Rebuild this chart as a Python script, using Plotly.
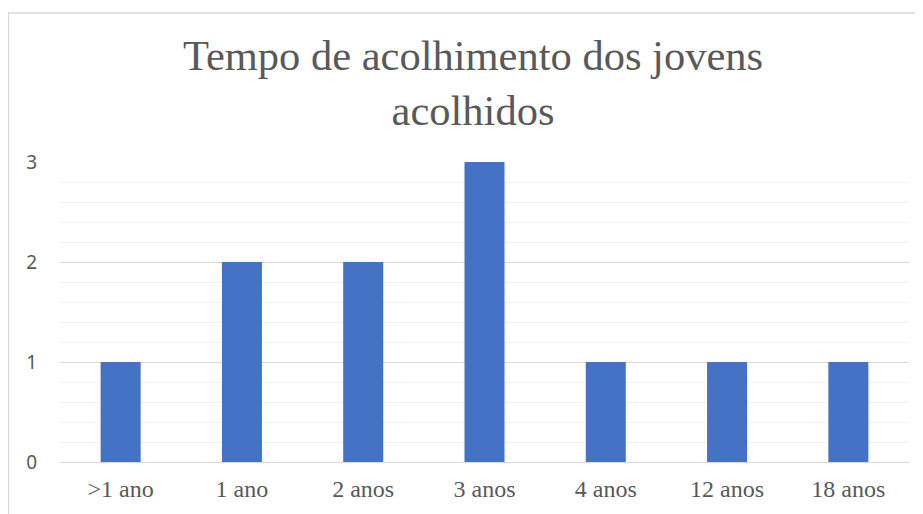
import plotly.graph_objects as go

categories = [">1 ano", "1 ano", "2 anos", "3 anos", "4 anos", "12 anos", "18 anos"]
values = [1, 2, 2, 3, 1, 1, 1]

# page has an 8px body margin, so the figure is sized to the remaining area
W, H = 915, 506
ml, mr, mt, mb = 52, 14, 154, 52
pw, ph = W - ml - mr, H - mt - mb

fig = go.Figure(go.Bar(x=categories, y=values, marker=dict(color="#4472C4", line=dict(width=0)),
                       width=0.33))

fig.update_layout(
    width=W, height=H,
    margin=dict(l=ml, r=mr, t=mt, b=mb),
    paper_bgcolor="white", plot_bgcolor="white",
    showlegend=False,
    title=dict(
        text="Tempo de acolhimento dos jovens<br>acolhidos",
        x=465 / W, xanchor="center", y=1 - 62 / H, yanchor="middle",
        font=dict(family="Liberation Serif", size=42.5, color="#595959"),
    ),
    xaxis=dict(
        showgrid=False, showline=False, zeroline=False, ticks="",
        tickfont=dict(family="Liberation Serif", size=24, color="#595959"),
        ticklabelstandoff=10,
    ),
    yaxis=dict(
        range=[0, 3], dtick=1, showline=False, zeroline=True, zerolinecolor="#d9d9d9", zerolinewidth=1,
        gridcolor="#d9d9d9", gridwidth=1,
        minor=dict(dtick=0.2, showgrid=True, gridcolor="#f2f2f2", gridwidth=1),
        tickfont=dict(family="Noto Sans", size=19, color="#595959"),
        ticks="", ticklabelstandoff=22,
    ),
    shapes=[dict(type="rect", xref="paper", yref="paper",
                 x0=(0.5 - ml) / pw, x1=1.2, y0=-0.5, y1=1 + (mt - 5) / ph,
                 line=dict(color="#d9d9d9", width=1.5), fillcolor="rgba(0,0,0,0)", layer="below")],
)

fig.write_html("out.html")
